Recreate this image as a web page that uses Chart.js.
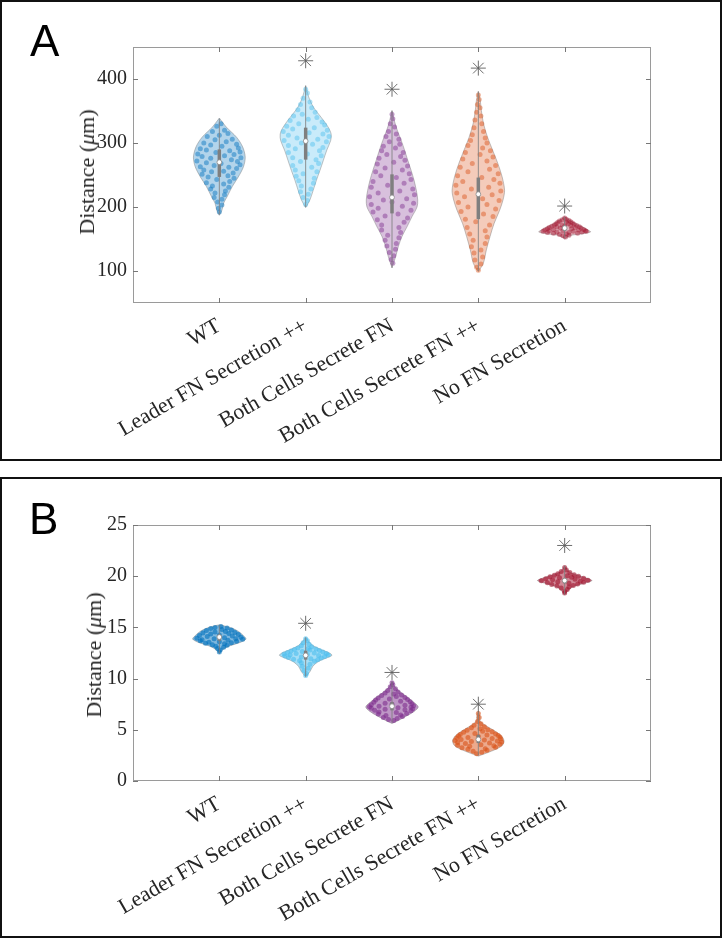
<!DOCTYPE html>
<html><head><meta charset="utf-8">
<script src="https://cdn.jsdelivr.net/npm/chart.js@4/dist/chart.umd.min.js"></script>
<style>
html,body{margin:0;padding:0;background:#fff;}
#page{position:relative;width:722px;height:939px;overflow:hidden;background:#fff;}
.panel{position:absolute;left:0;width:718px;height:457px;border:2px solid #111;}
#pa{top:0;}
#pb{top:477px;}
canvas{position:absolute;left:0;}
#ca{top:0;}
#cb{top:478px;}
.letter{position:absolute;font-family:'Liberation Sans',Arial,sans-serif;font-size:44px;line-height:1;color:#000;}
.ytitle{position:absolute;font-family:'Liberation Serif',serif;font-size:22px;color:#262626;white-space:nowrap;transform:translate(-50%,-50%) rotate(-90deg);}
</style></head>
<body><div id="page">
<div class="panel" id="pa"></div>
<div class="panel" id="pb"></div>
<canvas id="ca" width="722" height="460"></canvas>
<canvas id="cb" width="722" height="460"></canvas>
<div class="letter" style="left:30px;top:19px;">A</div>
<div class="letter" style="left:29px;top:497px;">B</div>
<div class="ytitle" style="left:87px;top:172px;">Distance (<i>μ</i>m)</div>
<div class="ytitle" style="left:94px;top:655px;">Distance (<i>μ</i>m)</div>
</div>
<script>
// ---------- categories and ticks ----------
const categories = ['WT','Leader FN Secretion ++','Both Cells Secrete FN','Both Cells Secrete FN ++','No FN Secretion'];
const yTicksA = [100,200,300,400];
const yTicksB = [0,5,10,15,20,25];

// ---------- Panel A : violin density outlines [value, half-width] ----------
const densityA_WT = [[339,0],[325,0.08],[309,0.20],[294,0.27],[278,0.30],[263,0.28],[247,0.22],[232,0.15],[216,0.09],[206,0.05],[195,0.03],[187,0]];
const densityA_Leader = [[390,0],[372,0.035],[356,0.09],[340,0.18],[325,0.26],[314,0.295],[304,0.29],[289,0.245],[273,0.205],[257,0.165],[242,0.125],[226,0.087],[211,0.049],[199,0]];
const densityA_Both = [[351,0],[335,0.027],[320,0.061],[304,0.107],[289,0.145],[273,0.183],[257,0.222],[242,0.255],[226,0.282],[211,0.298],[200,0.29],[185,0.232],[169,0.174],[154,0.116],[138,0.073],[123,0.044],[105,0]];
const densityA_BothPP = [[381,0],[366,0.023],[351,0.035],[330,0.061],[309,0.107],[289,0.165],[268,0.226],[247,0.276],[226,0.304],[211,0.286],[195,0.247],[174,0.182],[154,0.136],[133,0.093],[112,0.058],[99,0]];
const densityA_NoFN = [[185,0],[180,0.05],[174,0.125],[169,0.2],[164,0.27],[161,0.30],[158,0.2],[156,0.08],[153,0.03],[150,0]];

// ---------- Panel A : individual observations [value, jitter] ----------
const pointsA_WT = [[330,0.02],[326,-0.03],[320,0.06],[318,-0.08],[315,0.1],[312,0.0],[310,-0.14],[306,0.15],[305,-0.05],[302,0.08],[300,-0.18],[298,0.2],[297,-0.1],[295,0.03],[292,0.22],[291,-0.22],[289,-0.15],[288,0.12],[286,0.24],[285,-0.04],[283,-0.25],[282,0.17],[280,0.06],[279,-0.2],[277,0.25],[276,-0.1],[274,0.14],[272,-0.26],[271,0.21],[269,-0.15],[268,0.02],[266,0.24],[265,-0.06],[263,-0.22],[262,0.11],[260,0.2],[258,-0.18],[256,0.05],[255,-0.09],[253,0.16],[251,-0.2],[249,0.1],[247,-0.13],[245,0.17],[243,-0.03],[240,0.12],[238,-0.15],[236,0.05],[233,-0.08],[231,0.11],[228,-0.1],[225,0.07],[222,-0.05],[219,0.06],[215,-0.06],[212,0.03],[208,-0.02],[203,0.03],[198,-0.01],[192,0.0]];
const pointsA_Leader = [[384,0.0],[378,0.02],[370,-0.03],[364,0.05],[360,-0.06],[355,0.07],[352,-0.09],[348,0.11],[345,-0.04],[342,-0.14],[340,0.13],[337,0.03],[335,-0.18],[333,0.19],[330,-0.08],[328,0.22],[326,-0.22],[324,0.1],[322,-0.15],[320,0.25],[318,-0.26],[316,0.04],[314,0.2],[312,-0.2],[310,0.27],[308,-0.1],[306,0.14],[304,-0.25],[302,0.24],[300,-0.05],[298,0.08],[296,-0.2],[293,0.2],[291,-0.12],[288,0.16],[285,-0.2],[283,0.02],[280,0.18],[277,-0.15],[274,0.12],[271,-0.06],[268,0.15],[265,-0.15],[262,0.07],[258,-0.12],[255,0.13],[252,-0.03],[248,-0.11],[245,0.1],[241,-0.08],[237,0.09],[233,-0.05],[228,0.06],[224,-0.06],[220,0.03],[215,-0.03],[210,0.02],[204,0.0]];
const pointsA_Both = [[345,0.0],[338,0.01],[330,-0.02],[325,0.03],[318,-0.04],[314,0.05],[310,-0.07],[306,0.08],[302,-0.03],[298,0.09],[295,-0.1],[292,0.04],[288,-0.12],[285,0.13],[282,-0.06],[279,0.1],[276,-0.15],[273,0.15],[270,0.02],[267,-0.17],[264,0.18],[261,-0.08],[258,0.12],[255,-0.19],[252,0.2],[249,-0.13],[246,0.05],[243,0.22],[240,-0.22],[237,0.14],[234,-0.05],[231,-0.24],[228,0.24],[225,0.09],[222,-0.16],[219,0.26],[216,-0.26],[213,0.17],[211,-0.1],[208,0.0],[206,0.25],[204,-0.24],[201,0.12],[198,-0.16],[195,0.22],[192,-0.22],[189,0.07],[186,-0.08],[183,0.18],[180,-0.17],[176,0.14],[172,-0.12],[168,0.08],[164,-0.12],[160,0.1],[156,-0.05],[152,0.08],[148,-0.08],[143,0.05],[139,-0.06],[134,0.04],[129,-0.03],[124,0.02],[118,-0.01],[112,0.01]];
const pointsA_BothPP = [[375,0.0],[368,0.01],[360,-0.01],[355,0.02],[348,-0.02],[342,0.03],[336,-0.04],[330,0.04],[324,-0.05],[318,0.06],[313,-0.07],[308,0.08],[304,-0.09],[300,0.1],[296,-0.12],[292,0.05],[288,0.14],[285,-0.15],[282,0.02],[278,0.17],[275,-0.18],[272,0.1],[268,-0.07],[265,0.2],[262,-0.21],[259,0.13],[255,-0.12],[252,0.23],[249,-0.24],[246,0.04],[243,0.18],[240,-0.18],[237,0.25],[234,-0.26],[231,0.12],[228,-0.08],[225,0.26],[222,-0.25],[219,0.16],[216,-0.16],[213,0.05],[210,0.24],[207,-0.23],[204,0.1],[200,-0.12],[197,0.2],[193,-0.2],[189,0.06],[185,0.17],[181,-0.15],[177,-0.03],[172,0.13],[168,-0.13],[163,0.08],[158,-0.1],[153,0.1],[148,-0.06],[143,0.08],[138,-0.08],[133,0.03],[128,-0.05],[122,0.05],[117,-0.04],[111,0.03],[106,-0.02],[101,0.0]];
const pointsA_NoFN = [[183,0.0],[181,0.02],[180,-0.03],[179,0.05],[178,-0.06],[177,0.07],[176,-0.08],[176,0.02],[175,0.09],[174,-0.1],[174,0.04],[173,0.11],[172,-0.12],[172,-0.03],[171,0.14],[171,0.07],[170,-0.15],[170,0.0],[169,0.17],[169,-0.09],[168,0.12],[168,-0.18],[167,0.19],[167,-0.05],[166,-0.2],[166,0.08],[165,0.22],[165,-0.13],[164,0.16],[164,-0.23],[163,0.24],[163,-0.02],[163,-0.18],[162,0.1],[162,0.25],[162,-0.25],[161,-0.09],[161,0.2],[160,0.05],[160,-0.2],[159,0.15],[159,-0.13],[158,0.02],[157,-0.06],[156,0.05],[155,-0.02],[153,0.01]];

// ---------- Panel A : box statistics and significance markers ----------
const q1A = [247,274,190,181,163];
const medianA = [270,303,215,220,167];
const q3A = [290,324,251,246,171];
const whiskerLowA = [188,200,105,100,152];
const whiskerHighA = [338,389,350,380,184];
const starA = [null,428.5,384,417,201.5];

// ---------- Panel B : violin density outlines ----------
const densityB_WT = [[15.26,0],[15.1,0.08],[14.93,0.145],[14.61,0.222],[14.19,0.28],[13.86,0.309],[13.53,0.241],[13.21,0.125],[12.89,0.049],[12.43,0]];
const densityB_Leader = [[14.06,0],[13.63,0.035],[13.21,0.087],[12.82,0.183],[12.50,0.276],[12.27,0.304],[12.01,0.241],[11.68,0.148],[11.20,0.083],[10.71,0.052],[10.17,0]];
const densityB_Both = [[9.74,0],[9.25,0.029],[8.76,0.087],[8.28,0.165],[7.79,0.238],[7.24,0.304],[6.82,0.261],[6.33,0.165],[5.84,0.058],[5.62,0]];
const densityB_BothPP = [[6.82,0],[6.33,0.017],[5.84,0.023],[5.36,0.096],[4.87,0.194],[4.38,0.27],[3.89,0.298],[3.41,0.27],[2.92,0.154],[2.43,0]];
const densityB_NoFN = [[21.0,0],[20.61,0.032],[20.29,0.087],[19.96,0.203],[19.57,0.315],[19.25,0.203],[18.93,0.087],[18.50,0.029],[18.18,0]];

// ---------- Panel B : individual observations ----------
const pointsB_WT = [[15.1,0.02],[15.0,-0.05],[14.95,0.09],[14.9,-0.1],[14.8,0.03],[14.75,0.14],[14.7,-0.15],[14.6,0.07],[14.55,-0.05],[14.5,0.18],[14.45,-0.19],[14.4,0.11],[14.35,-0.1],[14.3,0.22],[14.25,0.0],[14.2,-0.23],[14.15,0.15],[14.1,-0.14],[14.05,0.25],[14.0,0.06],[13.95,-0.26],[13.9,0.19],[13.9,-0.06],[13.85,0.27],[13.8,-0.2],[13.75,0.1],[13.7,-0.22],[13.65,0.2],[13.6,0.0],[13.55,-0.12],[13.5,0.14],[13.45,-0.16],[13.4,0.06],[13.3,-0.08],[13.25,0.09],[13.15,-0.04],[13.05,0.05],[12.95,-0.02],[12.8,0.01],[12.6,0.0]];
const pointsB_Leader = [[13.9,0.0],[13.7,0.02],[13.5,-0.03],[13.35,0.04],[13.2,-0.05],[13.1,0.07],[13.0,-0.09],[12.95,0.03],[12.9,0.12],[12.85,-0.13],[12.8,0.05],[12.75,0.16],[12.7,-0.17],[12.65,-0.04],[12.6,0.2],[12.55,-0.21],[12.5,0.1],[12.45,0.24],[12.45,-0.11],[12.4,-0.25],[12.35,0.02],[12.3,0.26],[12.3,-0.18],[12.25,0.15],[12.2,-0.24],[12.15,0.22],[12.1,-0.05],[12.05,-0.2],[12.0,0.18],[11.95,0.06],[11.9,-0.14],[11.85,0.14],[11.75,-0.07],[11.7,0.1],[11.55,-0.05],[11.4,0.05],[11.2,-0.04],[11.0,0.03],[10.8,-0.02],[10.5,0.01],[10.3,0.0]];
const pointsB_Both = [[9.6,0.0],[9.4,0.01],[9.2,-0.02],[9.0,0.04],[8.85,-0.05],[8.7,0.07],[8.6,-0.08],[8.5,0.02],[8.4,0.11],[8.35,-0.12],[8.25,0.05],[8.15,0.15],[8.1,-0.16],[8.0,-0.03],[7.95,0.18],[7.9,-0.19],[7.8,0.1],[7.75,0.21],[7.7,-0.21],[7.6,-0.08],[7.55,0.23],[7.5,0.0],[7.45,-0.24],[7.4,0.15],[7.35,0.25],[7.3,-0.15],[7.25,-0.26],[7.2,0.22],[7.15,0.07],[7.1,-0.24],[7.05,0.24],[7.0,-0.08],[6.95,0.15],[6.9,-0.2],[6.85,0.22],[6.75,-0.15],[6.7,0.05],[6.6,0.17],[6.55,-0.16],[6.45,0.1],[6.4,-0.07],[6.3,0.12],[6.2,-0.1],[6.1,0.06],[6.0,-0.04],[5.9,0.02]];
const pointsB_BothPP = [[6.6,0.0],[6.2,0.01],[5.8,-0.01],[5.6,0.03],[5.45,-0.05],[5.3,0.07],[5.2,-0.08],[5.1,0.02],[5.0,0.11],[4.95,-0.13],[4.85,0.05],[4.8,0.16],[4.75,-0.17],[4.65,-0.04],[4.6,0.2],[4.55,-0.21],[4.5,0.1],[4.45,0.23],[4.4,-0.23],[4.35,0.0],[4.3,0.25],[4.25,-0.12],[4.2,-0.25],[4.15,0.16],[4.1,0.26],[4.05,-0.2],[4.0,0.07],[3.95,-0.27],[3.9,0.22],[3.85,-0.08],[3.8,0.27],[3.75,-0.24],[3.7,0.13],[3.65,-0.15],[3.6,0.25],[3.55,0.03],[3.5,-0.24],[3.45,0.18],[3.4,-0.1],[3.3,0.2],[3.25,-0.19],[3.15,0.08],[3.1,-0.12],[3.0,0.1],[2.9,-0.06],[2.8,0.04],[2.65,-0.02]];
const pointsB_NoFN = [[20.85,0.0],[20.6,0.02],[20.45,-0.04],[20.35,0.06],[20.25,-0.08],[20.15,0.11],[20.1,-0.12],[20.05,0.03],[20.0,0.16],[19.95,-0.17],[19.9,0.08],[19.85,-0.06],[19.8,0.22],[19.75,-0.22],[19.7,0.12],[19.65,-0.14],[19.6,0.27],[19.6,0.0],[19.55,-0.27],[19.5,0.18],[19.45,-0.08],[19.4,0.22],[19.35,-0.2],[19.3,0.05],[19.25,0.15],[19.2,-0.15],[19.1,0.1],[19.05,-0.09],[18.95,0.05],[18.85,-0.04],[18.7,0.03],[18.5,0.0],[18.35,0.0]];

// ---------- Panel B : box statistics and significance markers ----------
const q1B = [13.7,11.85,6.9,3.7,19.3];
const medianB = [14.06,12.27,7.3,4.06,19.57];
const q3B = [14.3,12.73,7.7,4.5,19.8];
const whiskerLowB = [12.5,10.2,5.7,2.5,18.2];
const whiskerHighB = [15.2,14.0,9.7,6.8,21.0];
const starB = [null,15.4,10.6,7.5,23.0];

// ---------- styling ----------
const groupRGB = ['0,114,189','77,190,238','126,47,142','217,83,25','162,20,47'];

function buildDatasets(densities, points, q1, med, q3, lo, hi, stars, fillAlpha, ptAlpha) {
  const ds = [];
  densities.forEach((dens, i) => {
    const c = i + 1;
    const right = dens.map(([v, w]) => ({x: c + w, y: v}));
    const left = dens.slice().reverse().map(([v, w]) => ({x: c - w, y: v}));
    ds.push({type:'line', data: right.concat(left), borderColor:'rgba(120,120,120,0.55)', borderWidth:0.8,
      backgroundColor:'rgba(' + groupRGB[i] + ',' + fillAlpha + ')', fill:'shape', tension:0.3, pointRadius:0, order:10});
    ds.push({type:'scatter', data: points[i].map(([v, o]) => ({x: c + o, y: v})), pointRadius:2.5,
      pointBackgroundColor:'rgba(' + groupRGB[i] + ',' + ptAlpha + ')', pointBorderWidth:0, order:8});
    ds.push({type:'line', data:[{x:c,y:lo[i]},{x:c,y:hi[i]}], borderColor:'rgba(128,128,128,0.85)', borderWidth:1, pointRadius:0, fill:false, order:6});
    ds.push({type:'line', data:[{x:c,y:q1[i]},{x:c,y:q3[i]}], borderColor:'#7f7f7f', borderWidth:3.5, borderCapStyle:'butt', pointRadius:0, fill:false, order:4});
  });
  ds.push({type:'scatter', data: med.map((v,i)=>({x:i+1,y:v})), pointRadius:2.4, pointBackgroundColor:'#ffffff',
    pointBorderColor:'#8a8a8a', pointBorderWidth:0.8, order:2});
  ds.push({type:'scatter', data: stars.map((v,i)=>({x:i+1,y:v})).filter(p=>p.y!==null), pointStyle:'star', pointRadius:7.5,
    pointBorderColor:'#5e5e5e', pointBorderWidth:0.9, pointBackgroundColor:'transparent', order:1});
  return ds;
}

const axesBox = {
  id:'axesBox',
  beforeDatasetsDraw(chart) {
    const {ctx, chartArea:a, scales:{x, y}} = chart;
    ctx.save();
    ctx.strokeStyle = '#9a9a9a';
    ctx.lineWidth = 1;
    ctx.strokeRect(Math.round(a.left)+0.5, Math.round(a.top)+0.5, Math.round(a.right-a.left)-1, Math.round(a.bottom-a.top)-1);
    ctx.strokeStyle = '#777';
    ctx.beginPath();
    x.ticks.forEach(t => { const px = Math.round(x.getPixelForValue(t.value))+0.5;
      ctx.moveTo(px, a.bottom); ctx.lineTo(px, a.bottom-5); ctx.moveTo(px, a.top); ctx.lineTo(px, a.top+5); });
    y.ticks.forEach(t => { const py = Math.round(y.getPixelForValue(t.value))+0.5;
      ctx.moveTo(a.left, py); ctx.lineTo(a.left+5, py); ctx.moveTo(a.right, py); ctx.lineTo(a.right-5, py); });
    ctx.stroke();
    ctx.restore();
  }
};

function makeChart(id, yMin, yMax, yTicks, datasets) {
  return new Chart(document.getElementById(id), {
    type:'line',
    data:{datasets},
    options:{
      responsive:false, animation:false, devicePixelRatio:1,
      layout:{padding:{left:0, top:47, right:71, bottom:0}},
      plugins:{legend:{display:false}, tooltip:{enabled:false}},
      scales:{
        x:{type:'linear', min:0, max:6, grid:{display:false, drawTicks:false}, border:{display:false},
          afterBuildTicks: s => { s.ticks = categories.map((c, i) => ({value: i + 1})); },
          afterFit: s => { s.height = 157; },
          ticks:{autoSkip:false, minRotation:30, maxRotation:30, padding:10, color:'#262626',
            font:{family:'Liberation Serif', size:22}, callback:(v, i) => categories[i]}},
        y:{type:'linear', min:yMin, max:yMax, grid:{display:false, drawTicks:false}, border:{display:false},
          afterBuildTicks: s => { s.ticks = yTicks.map(v => ({value:v})); },
          afterFit: s => { s.width = 133; },
          ticks:{padding:6, color:'#262626', font:{family:'Liberation Serif', size:20}}}
      }
    },
    plugins:[axesBox]
  });
}

makeChart('ca', 50, 450, yTicksA, buildDatasets(
  [densityA_WT, densityA_Leader, densityA_Both, densityA_BothPP, densityA_NoFN],
  [pointsA_WT, pointsA_Leader, pointsA_Both, pointsA_BothPP, pointsA_NoFN],
  q1A, medianA, q3A, whiskerLowA, whiskerHighA, starA, 0.3, 0.45));
makeChart('cb', 0, 25, yTicksB, buildDatasets(
  [densityB_WT, densityB_Leader, densityB_Both, densityB_BothPP, densityB_NoFN],
  [pointsB_WT, pointsB_Leader, pointsB_Both, pointsB_BothPP, pointsB_NoFN],
  q1B, medianB, q3B, whiskerLowB, whiskerHighB, starB, 0.5, 0.6));
</script>
</body></html>
